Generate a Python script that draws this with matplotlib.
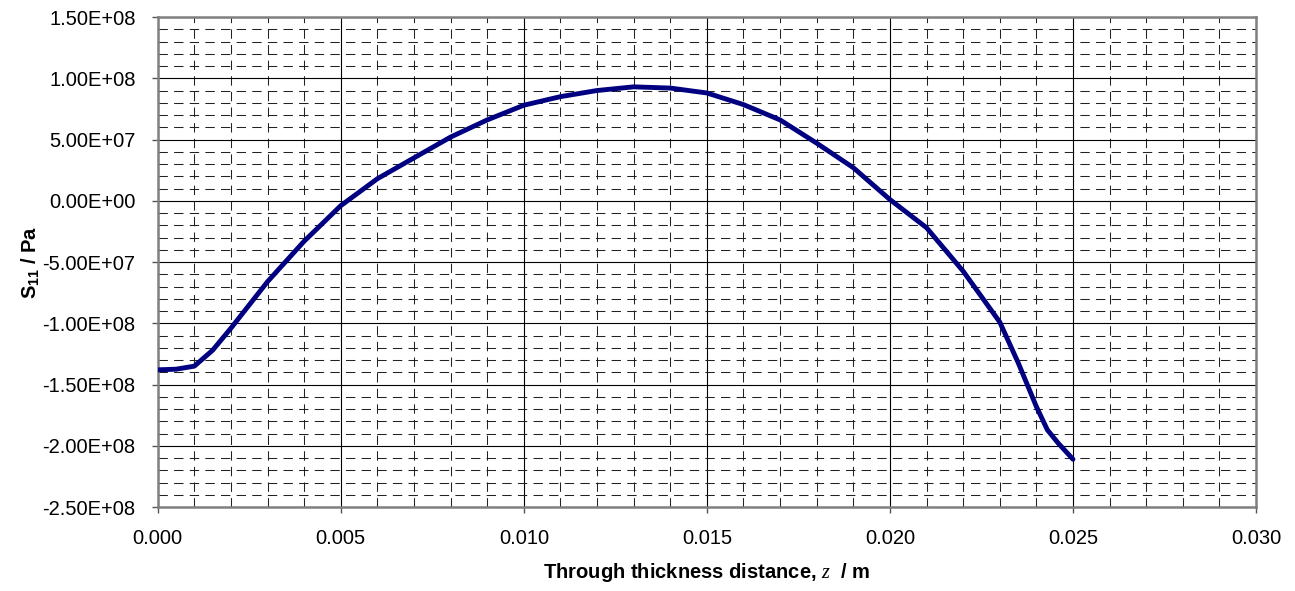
import numpy as np
import matplotlib
matplotlib.use('Agg')
import matplotlib.pyplot as plt
from matplotlib.ticker import MultipleLocator, FormatStrFormatter

plt.rcParams['font.family'] = ['Liberation Sans', 'DejaVu Sans']
plt.rcParams['mathtext.fontset'] = 'custom'
plt.rcParams['mathtext.rm'] = 'Liberation Sans:bold'
plt.rcParams['mathtext.it'] = 'Liberation Serif:italic'

# through thickness distance (m) and stress S11 (Pa)
z = [0.0, 0.0005, 0.001, 0.0015, 0.002, 0.003, 0.004, 0.005, 0.006, 0.007,
     0.008, 0.009, 0.010, 0.011, 0.012, 0.013, 0.014, 0.015, 0.016, 0.017,
     0.018, 0.019, 0.020, 0.021, 0.022, 0.023, 0.0235, 0.024, 0.0243,
     0.0246, 0.025]
s11 = [-1.38e8, -1.375e8, -1.35e8, -1.22e8, -1.04e8, -6.6e7, -3.3e7, -4.0e6,
       1.8e7, 3.5e7, 5.2e7, 6.6e7, 7.8e7, 8.5e7, 9.0e7, 9.3e7, 9.2e7, 8.8e7,
       7.85e7, 6.6e7, 4.7e7, 2.7e7, 1.0e6, -2.2e7, -5.75e7, -9.9e7, -1.32e8,
       -1.68e8, -1.87e8, -1.98e8, -2.11e8]

fig = plt.figure(figsize=(12.95, 5.91), dpi=100)
ax = fig.add_axes([0.1218, 0.1421, 0.8481, 0.8291])

ax.plot(z, s11, color='#000080', lw=3.5, solid_capstyle='round',
        solid_joinstyle='round', zorder=3)

ax.set_xlim(0, 0.030)
ax.set_ylim(-2.5e8, 1.5e8)
ax.xaxis.set_major_locator(MultipleLocator(0.005))
ax.xaxis.set_minor_locator(MultipleLocator(0.001))
ax.yaxis.set_major_locator(MultipleLocator(5e7))
ax.yaxis.set_minor_locator(MultipleLocator(1e7))
ax.xaxis.set_major_formatter(FormatStrFormatter('%.3f'))
ax.yaxis.set_major_formatter(FormatStrFormatter('%.2E'))

ax.grid(which='major', color='black', lw=0.8, ls='-')
ax.grid(which='minor', color='#222222', lw=0.75, ls=(0, (9, 6)))
ax.set_axisbelow(True)

for sp in ax.spines.values():
    sp.set_color('#808080')
    sp.set_linewidth(1.8)

ax.tick_params(which='major', direction='out', length=4, width=1,
               color='#555555', labelsize=14.5)
ax.tick_params(axis='y', pad=12)
ax.tick_params(axis='x', pad=12)
ax.tick_params(which='minor', length=0)

ax.set_xlabel('Through thickness distance, $z$  / m', fontsize=14.5,
              fontweight='bold', va='center')
ax.set_ylabel('S$_{\\mathrm{11}}$ / Pa', fontsize=14.5, fontweight='bold',
              va='center')
ax.xaxis.set_label_coords(0.5, -0.1327)
ax.yaxis.set_label_coords(-0.1163, 0.5)

fig.savefig('out.png', dpi=100)
